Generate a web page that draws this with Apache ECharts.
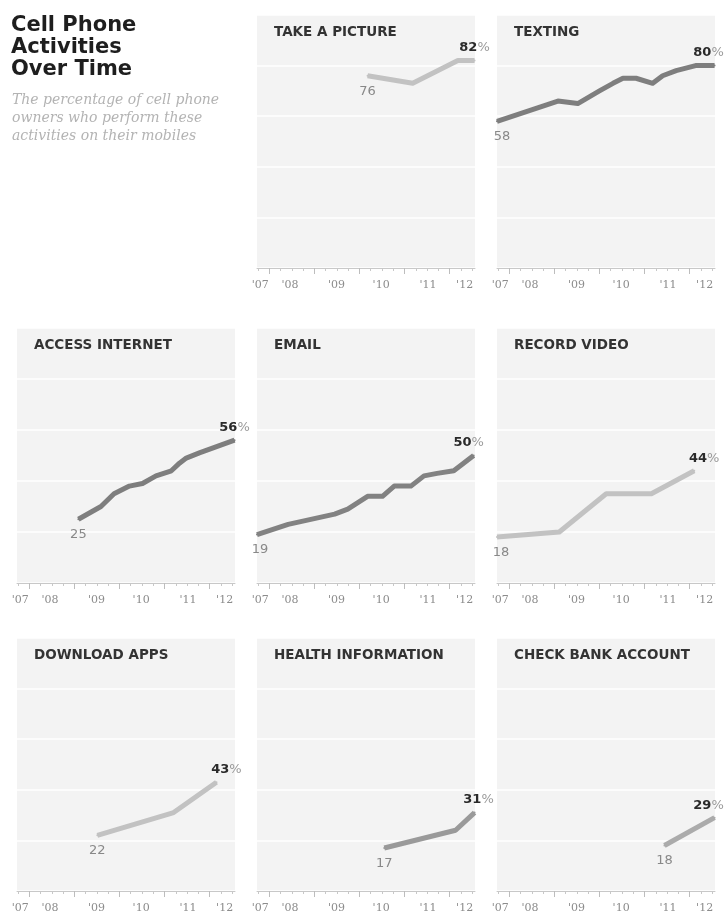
<!DOCTYPE html>
<html>
<head>
    <meta charset="utf-8">
    <script src="https://cdn.jsdelivr.net/npm/echarts@6/dist/echarts.min.js"></script>
    <style>
        body { margin: 0; background: #fff; }
        #main { width: 726px; height: 914px; }
    </style>
</head>

<body>
    <div id="main"></div>

    <script type="text/javascript">
        // x values are fractional years (survey dates), y values are percentages
        var yearTicks = [2008, 2009, 2010, 2011, 2012];
        var yearLabelPos = [2007.8, 2008.46, 2009.49, 2010.48, 2011.52, 2012.33];
        var yearLabels = ["'07", "'08", "'09", "'10", "'11", "'12"];

        var pictureX = [2010.18, 2011.18, 2012.18, 2012.55];
        var pictureY = [76, 73, 82, 82];

        var textingX = [2007.73, 2009.08, 2009.52, 2010.0, 2010.3, 2010.52, 2010.81, 2011.18, 2011.4, 2011.7, 2012.13, 2012.55];
        var textingY = [58, 66, 65, 70, 73, 75, 75, 73, 76, 78, 80, 80];

        var internetX = [2009.09, 2009.59, 2009.88, 2010.22, 2010.51, 2010.81, 2011.15, 2011.33, 2011.48, 2011.77, 2012.55];
        var internetY = [25, 30, 35, 38, 39, 42, 44, 47, 49, 51, 56];

        var emailX = [2007.73, 2008.42, 2009.45, 2009.74, 2010.18, 2010.51, 2010.77, 2011.14, 2011.43, 2011.72, 2012.09, 2012.53];
        var emailY = [19, 23, 27, 29, 34, 34, 38, 38, 42, 43, 44, 50];

        var videoX = [2007.73, 2009.11, 2010.15, 2011.15, 2012.1];
        var videoY = [18, 20, 35, 35, 44];

        var appsX = [2009.51, 2011.2, 2012.15];
        var appsY = [22, 31, 43];

        var healthX = [2010.55, 2012.13, 2012.55];
        var healthY = [17, 24, 31];

        var bankX = [2011.44, 2012.55];
        var bankY = [18, 29];

        var panels = [
            { name: 'TAKE A PICTURE', xs: pictureX, ys: pictureY, color: '#c2c2c2', col: 1, row: 0, startOff: 0, endOff: 0 },
            { name: 'TEXTING', xs: textingX, ys: textingY, color: '#7e7e7e', col: 2, row: 0, startOff: 5, endOff: -6 },
            { name: 'ACCESS INTERNET', xs: internetX, ys: internetY, color: '#7e7e7e', col: 0, row: 1, startOff: 0, endOff: 0 },
            { name: 'EMAIL', xs: emailX, ys: emailY, color: '#828282', col: 1, row: 1, startOff: 3, endOff: -5 },
            { name: 'RECORD VIDEO', xs: videoX, ys: videoY, color: '#c2c2c2', col: 2, row: 1, startOff: 4, endOff: 10 },
            { name: 'DOWNLOAD APPS', xs: appsX, ys: appsY, color: '#c2c2c2', col: 0, row: 2, startOff: 0, endOff: 10 },
            { name: 'HEALTH INFORMATION', xs: healthX, ys: healthY, color: '#9a9a9a', col: 1, row: 2, startOff: 0, endOff: 4 },
            { name: 'CHECK BANK ACCOUNT', xs: bankX, ys: bankY, color: '#ababab', col: 2, row: 2, startOff: 0, endOff: -6 }
        ];

        var colLefts = [17, 257, 497];
        var rowTops = [15, 328, 638];
        var rowHeights = [253, 255, 254];
        var panelWidth = 218;
        var xMin = 2007.73, xMax = 2012.56;

        var quarterTicks = [];
        for (var y = 2007; y <= 2012; y++) {
            [0.25, 0.5, 0.75].forEach(function(q) {
                if (y + q > xMin && y + q < xMax) quarterTicks.push(y + q);
            });
        }

        var myChart = echarts.init(document.getElementById('main'));

        var grids = [], xAxes = [], yAxes = [], series = [];
        var titles = [
            {
                text: 'Cell Phone\nActivities\nOver Time',
                left: 11, top: 15, padding: 0,
                textStyle: { fontFamily: 'DejaVu Sans', fontSize: 21, fontWeight: 'bold', lineHeight: 22, color: '#1e1e1e' }
            },
            {
                text: 'The percentage of cell phone\nowners who perform these\nactivities on their mobiles',
                left: 12, top: 91, padding: 0,
                textStyle: { fontFamily: 'DejaVu Serif', fontStyle: 'italic', fontWeight: 'normal', fontSize: 14, lineHeight: 18, color: '#b3b3b3' }
            }
        ];

        panels.forEach(function(p, i) {
            var left = colLefts[p.col], top = rowTops[p.row];

            grids.push({
                left: left, top: top, width: panelWidth, height: rowHeights[p.row],
                show: true, backgroundColor: '#f3f3f3', borderWidth: 0
            });

            titles.push({
                text: p.name,
                left: left + 17, top: top + 10, padding: 0,
                textStyle: { fontFamily: 'DejaVu Sans', fontSize: 13.5, fontWeight: 'bold', color: '#333' }
            });

            // minor (quarter) ticks + year labels
            xAxes.push({
                type: 'value', gridIndex: i, position: 'bottom', min: xMin, max: xMax,
                axisLine: { show: true, onZero: false, lineStyle: { color: '#c8c8c8', width: 1 } },
                axisTick: { show: true, customValues: quarterTicks, length: 3, lineStyle: { color: '#c8c8c8' } },
                axisLabel: {
                    show: true, customValues: yearLabelPos, margin: 12,
                    fontFamily: 'DejaVu Serif', fontSize: 11, color: '#8c8c8c',
                    formatter: function(v) {
                        var best = 0;
                        for (var k = 0; k < yearLabelPos.length; k++) {
                            if (Math.abs(yearLabelPos[k] - v) < Math.abs(yearLabelPos[best] - v)) best = k;
                        }
                        return yearLabels[best];
                    }
                },
                splitLine: { show: false }
            });
            // major (year) ticks
            xAxes.push({
                type: 'value', gridIndex: i, position: 'bottom', min: xMin, max: xMax,
                axisLine: { show: false, onZero: false },
                axisTick: { show: true, customValues: yearTicks, length: 6, lineStyle: { color: '#bdbdbd' } },
                axisLabel: { show: false },
                splitLine: { show: false }
            });

            yAxes.push({
                type: 'value', gridIndex: i, min: 0, max: 100, interval: 20,
                axisLine: { show: false }, axisTick: { show: false }, axisLabel: { show: false },
                splitLine: { show: true, lineStyle: { color: '#ffffff', width: 1.5 } }
            });

            var last = p.xs.length - 1;
            var data = p.xs.map(function(x, k) {
                var item = { value: [x, p.ys[k]] };
                if (k == 0) {
                    item.label = {
                        show: true, position: 'bottom', distance: 8, offset: [p.startOff, 0],
                        fontFamily: 'DejaVu Sans', fontSize: 13, color: '#888',
                        formatter: '' + p.ys[k]
                    };
                } else if (k == last) {
                    item.label = {
                        show: true, position: 'top', distance: 5, offset: [p.endOff, 0],
                        formatter: '{v|' + p.ys[k] + '}{pc|%}',
                        rich: {
                            v: { fontFamily: 'DejaVu Sans', fontSize: 13, fontWeight: 'bold', color: '#2a2a2a' },
                            pc: { fontFamily: 'DejaVu Sans', fontSize: 13, color: '#9a9a9a' }
                        }
                    };
                }
                return item;
            });

            series.push({
                name: p.name,
                type: 'line',
                xAxisIndex: i * 2,
                yAxisIndex: i,
                symbol: 'circle',
                symbolSize: 2,
                showSymbol: true,
                itemStyle: { color: p.color },
                lineStyle: { width: 5, color: p.color, join: 'round' },
                label: { show: false },
                emphasis: { disabled: true },
                animation: false,
                data: data
            });
        });

        myChart.setOption({
            animation: false,
            title: titles,
            grid: grids,
            xAxis: xAxes,
            yAxis: yAxes,
            series: series
        });
    </script>
</body>

</html>
